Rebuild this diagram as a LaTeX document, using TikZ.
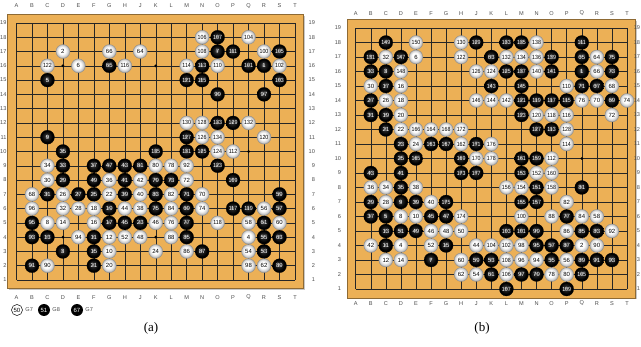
\documentclass[tikz,border=0pt]{standalone}
\usepackage{fontspec}
\setmainfont{Liberation Serif}
\setsansfont{Liberation Sans}
\usepackage{graphicx}
\usepackage{tikz}
\usetikzlibrary{calc,positioning,shadings}
\definecolor{goban}{RGB}{236,176,86}
\pgfdeclareradialshading{bshade}{\pgfpoint{-4bp}{4bp}}{color(0bp)=(black!40);color(7bp)=(black!85);color(20bp)=(black);color(50bp)=(black)}
\pgfdeclareradialshading{wshade}{\pgfpoint{-4bp}{4bp}}{color(0bp)=(white);color(12bp)=(white);color(21bp)=(black!20);color(25bp)=(black!38);color(50bp)=(black!38)}
\newcommand{\stonefont}{\fontsize{6}{6}\sffamily\selectfont}
\newcommand{\coordfont}{\fontsize{5.6}{6}\sffamily\selectfont}
\newcommand{\stonenum}[1]{\ifnum#1>99\relax\scalebox{0.88}[1]{#1}\else#1\fi}
\tikzset{
  board/.style={fill=goban, draw=goban!60!black, line width=0.3pt},
  bshadow/.style={fill=black!22, draw=none},
  grid/.style={line width=0.45pt, black!85},
  hoshi/.style={circle, fill=black, inner sep=0pt, minimum size=3pt},
  bstone/.style={circle, shading=bshade, draw=black, line width=0.2pt, inner sep=0pt,
                 minimum size=14pt, text=white, font=\stonefont},
  wstone/.style={circle, shading=wshade, draw=black!45, line width=0.3pt, inner sep=0pt,
                 minimum size=14pt, text=black, font=\stonefont},
  lwstone/.style={circle, draw=black, fill=white, line width=0.5pt, inner sep=0pt,
                  minimum size=11pt, font=\stonefont},
  lbstone/.style={circle, fill=black, inner sep=0pt, minimum size=12pt, text=white,
                  font=\stonefont},
  coord/.style={font=\coordfont, text=black!70, inner sep=0pt},
  caption/.style={font=\fontsize{13}{15}\selectfont}
}
% one empty board: #1 prefix, #2 gap of the letters, #3/#4 where the numbers end
\newcommand{\goban}[4]{%
  \draw[bshadow] (0.5,0.3) rectangle (19.65,19.5);
  \draw[board] (0.4,0.4) rectangle (19.55,19.6);
  \foreach \i in {1,...,19}{
    \draw[grid] (\i,1) -- (\i,19);
    \draw[grid] (1,\i) -- (19,\i);}
  \foreach \hx in {4,10,16}{\foreach \hy in {4,10,16}{
    \node[hoshi] (#1h\hx-\hy) at (\hx,\hy) {};}}
  \foreach \l [count=\i] in {A,B,C,D,E,F,G,H,J,K,L,M,N,O,P,Q,R,S,T}{
    \node[coord] (#1top\i) at (\i,19+#2) {\l};
    \node[coord] (#1bot\i) at (\i,1-#2) {\l};
    \node[coord, anchor=east] (#1left\i) at (#3,\i) {\i};
    \node[coord, anchor=east] (#1right\i) at (#4,\i) {\i};}
}
\newcommand{\blacks}[2]{\foreach \mv/\cx/\cy in {#2}{
  \node[bstone] (#1s\mv) at (\cx,\cy) {\stonenum{\mv}};}}
\newcommand{\whites}[2]{\foreach \mv/\cx/\cy in {#2}{
  \node[wstone] (#1s\mv) at (\cx,\cy) {\stonenum{\mv}};}}

\begin{document}
\begin{tikzpicture}[x=1pt,y=1pt]
  \useasboundingbox (0,0) rectangle (641,346);
  % (a): game record, moves 1-135
  \begin{scope}[shift={(1.03pt,51.72pt)}, x=15.47pt, y=14.28pt]
    \goban{a}{1.2}{0.36}{20.3}
    \blacks{a}{1/17/16, 3/4/3, 5/3/15, 7/14/17, 9/3/11, 11/6/4, 13/3/4, 15/6/3, 17/7/5,
      19/7/6, 21/6/2, 23/9/5, 25/6/7, 27/5/7, 29/4/8, 31/3/7, 33/4/9, 35/4/10, 37/6/9,
      39/8/7, 41/8/8, 43/8/9, 45/8/5, 47/7/9, 49/6/8, 53/17/3, 55/17/4, 57/18/6, 59/18/7,
      61/17/5, 63/18/4, 65/7/16, 69/12/6, 71/12/7, 73/11/8, 75/10/6, 77/12/5, 79/10/8,
      81/9/9, 83/10/7, 85/12/4, 87/13/3, 89/18/2, 91/2/2, 93/2/4, 95/2/5, 97/17/14,
      99/14/14, 101/16/16, 103/18/15, 105/18/17, 107/14/18, 109/15/8, 111/15/17,
      113/13/16, 115/13/15, 117/15/6, 119/16/6, 121/12/15, 123/14/9, 125/13/10,
      127/12/11, 129/15/12, 131/12/10, 133/14/12, 135/10/10}
    \whites{a}{2/4/17, 4/16/4, 6/5/16, 8/3/5, 10/7/3, 12/7/4, 14/4/5, 16/6/5, 18/6/6,
      20/7/2, 22/7/7, 24/10/3, 26/4/7, 28/5/6, 30/3/8, 32/4/6, 34/3/9, 36/7/8, 38/9/6,
      40/9/7, 42/9/8, 44/8/6, 46/10/5, 48/9/4, 52/8/4, 54/16/3, 56/17/6, 58/16/5,
      60/18/5, 62/17/2, 64/9/17, 66/7/17, 68/2/7, 70/13/7, 72/12/8, 74/13/6, 76/11/5,
      78/11/9, 80/10/9, 82/11/7, 84/11/6, 86/12/3, 88/11/4, 90/3/2, 92/12/9, 94/5/4,
      96/2/6, 98/16/2, 100/17/17, 102/18/16, 104/16/18, 106/13/18, 108/13/17,
      110/14/16, 112/15/10, 114/12/16, 116/8/16, 118/14/5, 120/17/11, 122/3/16,
      124/14/10, 126/13/11, 128/13/12, 130/12/12, 132/16/12, 134/14/11}
  \end{scope}
  % moves played on a taken point
  \node[lwstone] (k50) at (17,36) {50};
  \node[coord, right=2.5pt of k50] (k50at) {G7};
  \node[lbstone] (k51) at (44,36) {51};
  \node[coord, right=2pt of k51] (k51at) {G8};
  \node[lbstone] (k67) at (77,36) {67};
  \node[coord, right=2pt of k67] (k67at) {G7};
  \node[caption] (capa) at (151,18) {(a)};
  % (b): game record, moves 1-178
  \begin{scope}[shift={(340.63pt,42.5pt)}, x=15.07pt, y=14.5pt]
    \goban{b}{1.0}{0.04}{19.88}
    \blacks{b}{1/16/16, 3/3/16, 5/3/6, 7/6/3, 9/4/7, 11/3/4, 13/3/5, 15/7/4, 17/3/15,
      19/3/13, 21/3/12, 23/4/11, 25/4/10, 27/2/14, 29/2/7, 31/2/13, 33/2/16, 35/4/8,
      37/2/6, 39/5/7, 41/4/9, 43/2/9, 45/6/6, 47/7/6, 49/5/5, 51/4/5, 53/10/3, 55/14/3,
      57/14/4, 59/9/3, 61/10/2, 63/10/17, 65/16/17, 67/17/15, 69/18/14, 71/16/15,
      73/18/16, 75/18/17, 77/15/6, 79/13/2, 81/16/8, 83/17/5, 85/16/5, 87/15/4, 89/16/3,
      91/17/3, 93/18/3, 95/13/4, 97/12/2, 99/13/5, 101/12/5, 103/11/5, 105/16/2,
      107/11/1, 109/15/1, 111/16/18, 113/14/12, 115/15/14, 117/14/14, 119/13/14,
      121/12/14, 123/12/13, 125/11/16, 127/13/12, 129/9/18, 131/2/17, 133/11/18,
      135/12/18, 137/12/16, 139/14/17, 141/14/16, 143/10/15, 145/12/15, 147/4/17,
      149/3/18, 151/13/8, 153/12/9, 155/12/7, 157/13/7, 159/13/10, 161/12/10,
      163/6/11, 165/5/10, 167/7/11, 169/8/10, 171/9/11, 173/8/9, 175/7/7, 177/9/9}
    \whites{b}{2/16/4, 4/4/4, 6/5/17, 8/4/6, 10/5/6, 12/3/3, 14/4/3, 16/4/15, 18/4/14,
      20/4/13, 22/4/12, 24/5/11, 26/3/14, 28/3/7, 30/2/15, 32/3/17, 34/3/8, 36/2/8,
      38/5/8, 40/6/7, 42/2/4, 44/9/4, 46/6/5, 48/7/5, 50/8/5, 52/6/4, 54/9/2, 56/15/3,
      58/17/6, 60/8/3, 62/8/2, 64/17/17, 66/17/16, 68/18/15, 70/17/14, 72/18/13,
      74/19/14, 76/16/14, 78/14/2, 80/15/2, 82/15/7, 84/16/6, 86/15/5, 88/14/6,
      90/17/4, 92/18/5, 94/13/3, 96/12/3, 98/12/4, 100/12/6, 102/11/4, 104/10/4,
      106/11/2, 108/11/3, 110/15/15, 112/14/10, 114/15/11, 116/15/13, 118/14/13,
      120/13/13, 122/8/17, 124/10/16, 126/9/16, 128/15/12, 130/8/18, 132/11/17,
      134/12/17, 136/13/17, 138/13/18, 140/13/16, 142/11/14, 144/10/14, 146/9/14,
      148/4/16, 150/5/18, 152/13/9, 154/12/8, 156/11/8, 158/14/8, 160/14/9, 162/8/11,
      164/6/12, 166/5/12, 168/7/12, 170/9/10, 172/8/12, 174/8/6, 176/10/11, 178/10/10}
  \end{scope}
  \node[caption] (capb) at (482,18) {(b)};
\end{tikzpicture}
\end{document}
